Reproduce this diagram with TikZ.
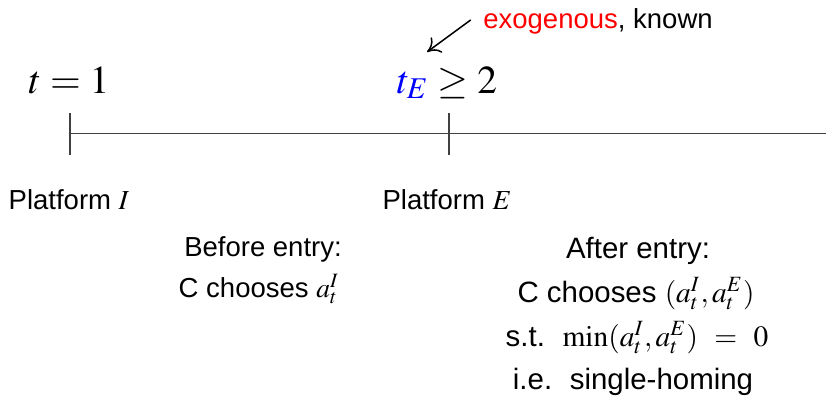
\documentclass[tikz,border=0pt]{standalone}
\usepackage{mathptmx}
\usepackage[no-math]{fontspec}
\setmainfont{Liberation Sans}
\usepackage{tikz}
\usetikzlibrary{arrows.meta, positioning}
\tikzstyle{arrow} = [black, line width=0.55pt, -{To[length=1.6mm, width=2.4mm]}]
\tikzstyle{timeline} = [black!75, line width=0.45pt]
\tikzstyle{datelbl} = [anchor=base, inner sep=0pt, font=\Large]
\tikzstyle{txt} = [anchor=base, inner sep=0pt]
\tikzstyle{bigtxt} = [txt, font=\fontsize{10.7}{12}\selectfont]

\begin{document}
\begin{tikzpicture}[x=0.3636pt, y=-0.3636pt]
    \useasboundingbox (0,0) rectangle (826,400);

    % Time axis
    \coordinate (start) at (70,133.5);
    \coordinate (entry) at (449,133.5);
    \coordinate (stop)  at (826,133.5);
    \draw[timeline] (start) -- (stop);
    \foreach \pt in {start, entry}
      \draw[timeline] ([yshift=21*0.3636pt]\pt) -- ([yshift=-21*0.3636pt]\pt);

    % Dates above the axis
    \node[datelbl] (tone) at (69,93) {$t = 1$};
    \node[datelbl] (tent) at (447,93) {$\textcolor{blue}{t_E} \geq 2$};
    \node[txt] (exo) at (598,28) {\textcolor{red}{exogenous}, known};
    \coordinate (tip) at (427,52);
    \draw[arrow] ([xshift=-12*0.3636pt, yshift=1*0.3636pt]exo.west) -- (tip);

    % Platforms below the axis
    \node[txt] (pfi) at (69,209) {Platform $I$};
    \node[txt] (pfe) at (447,209) {Platform $E$};

    % Before entry
    \node[txt] (bef)  at (263,256) {Before entry:};
    \node[txt] (befc) at (259,297) {C chooses $a_t^I$};

    % After entry
    \node[bigtxt] (aft)   at (638,258) {After entry:};
    \node[bigtxt] (aftc)  at (636,302) {C chooses $(a_t^I, a_t^E)$};
    \node[bigtxt] (aftst) at (637,346) {s.t.\hspace{0.6em}$\min(a_t^I, a_t^E) \;\,=\;\, 0$};
    \node[bigtxt] (aftie) at (633,389) {i.e.\hspace{0.6em}single-homing};
\end{tikzpicture}
\end{document}
